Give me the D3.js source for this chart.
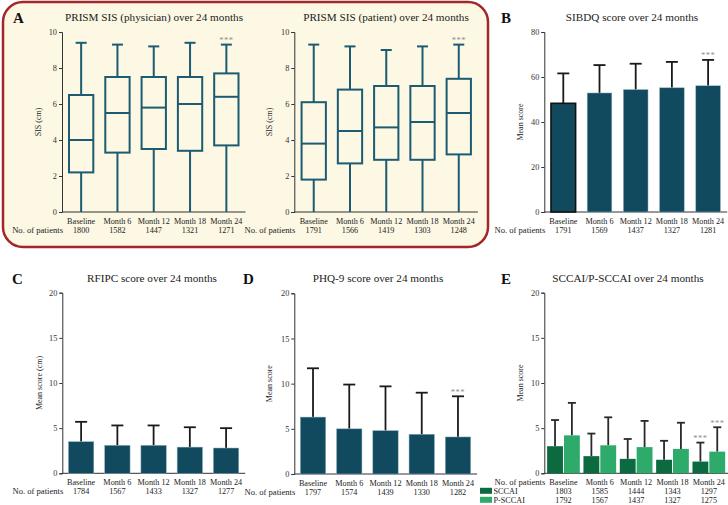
<!DOCTYPE html>
<html>
<head>
<meta charset="utf-8">
<script src="https://cdn.jsdelivr.net/npm/d3@7"></script>
<style>
  body { margin: 0; background: #fff; }
  svg { display: block; font-family: "Liberation Serif", "DejaVu Serif", serif; }
</style>
</head>
<body>
<svg id="chart" width="728" height="505"></svg>
<script>
// categories
const cats = ["Baseline", "Month 6", "Month 12", "Month 18", "Month 24"];

// A: PRISM SIS boxplots (cm)
const physN = [1800, 1582, 1447, 1321, 1271];
const physMin = [0, 0, 0, 0, 0];
const physQ1 = [2.2, 3.3, 3.5, 3.4, 3.7];
const physMed = [4.0, 5.5, 5.8, 6.0, 6.4];
const physQ3 = [6.5, 7.5, 7.5, 7.5, 7.7];
const physMax = [9.4, 9.3, 9.2, 9.4, 9.3];

const patN = [1791, 1566, 1419, 1303, 1248];
const patMin = [0, 0, 0, 0, 0];
const patQ1 = [1.8, 2.7, 2.9, 2.9, 3.2];
const patMed = [3.8, 4.5, 4.7, 5.0, 5.5];
const patQ3 = [6.1, 6.8, 7.0, 7.0, 7.4];
const patMax = [9.3, 9.2, 9.0, 9.2, 9.3];

// B: SIBDQ
const sibdqN = [1791, 1569, 1437, 1327, 1281];
const sibdqMean = [48.3, 52.9, 54.4, 55.2, 56.1];
const sibdqSD = [13.3, 12.4, 11.5, 11.5, 11.5];

// C: RFIPC
const rfipcN = [1784, 1567, 1433, 1327, 1277];
const rfipcMean = [3.5, 3.1, 3.1, 2.9, 2.8];
const rfipcSD = [2.2, 2.2, 2.2, 2.2, 2.2];

// D: PHQ-9
const phqN = [1797, 1574, 1439, 1330, 1282];
const phqMean = [6.3, 5.0, 4.8, 4.4, 4.1];
const phqSD = [5.4, 4.9, 4.9, 4.6, 4.5];

// E: SCCAI / P-SCCAI
const sccaiN = [1803, 1585, 1444, 1343, 1297];
const sccaiMean = [3.0, 1.9, 1.6, 1.5, 1.3];
const sccaiSD = [2.9, 2.5, 2.2, 2.1, 2.1];
const psccaiN = [1792, 1567, 1437, 1327, 1275];
const psccaiMean = [4.2, 3.1, 2.9, 2.7, 2.4];
const psccaiSD = [3.6, 3.1, 2.9, 2.9, 2.7];
const seriesE = ["SCCAI", "P-SCCAI"];

const barColor = "#114a5e";
const boxColor = "#1c5b72";
const greenColors = ["#0b6a40", "#2eaa6b"];
const axisColor = "#333";

const svg = d3.select("#chart");

// panel A background
svg.append("rect")
    .attr("x", 3).attr("y", 2)
    .attr("width", 485).attr("height", 245)
    .attr("rx", 20)
    .attr("fill", "#fcf8e4")
    .attr("stroke", "#a3262b")
    .attr("stroke-width", 2.5)

// common frame: axes, labels, title
function frame(o) {
    const x = d3.scaleBand().domain(cats).range([o.x0, o.x1])
        .paddingInner(o.pad).paddingOuter(o.pad / 2)
    const y = d3.scaleLinear().domain(o.domain).range([o.yb, o.yt])
    const g = svg.append("g")

    //Y AXIS
    const ax = g.append("g")
        .attr("transform", `translate(${o.ax},0)`)
        .call(d3.axisLeft(y).tickValues(o.ticks).tickSize(3).tickPadding(2))
    ax.selectAll("path, line").attr("stroke", axisColor)
    ax.selectAll("text").attr("font-family", "Liberation Serif").attr("font-size", 8.3).attr("fill", "#333")

    //X AXIS (plain line)
    g.append("line")
        .attr("x1", o.ax).attr("x2", o.x1 + 1)
        .attr("y1", o.yb).attr("y2", o.yb)
        .attr("stroke", axisColor)

    //y label
    g.append("text")
        .attr("transform", `translate(${o.ylx},${(o.yb + o.yt) / 2}) rotate(-90)`)
        .attr("text-anchor", "middle")
        .attr("font-size", 8)
        .attr("fill", "#222")
        .text(o.ylabel)

    //title + letter
    g.append("text")
        .attr("x", o.tx).attr("y", o.ty)
        .attr("text-anchor", "middle")
        .attr("font-size", 11.2)
        .attr("fill", "#222")
        .text(o.title)
    if (o.letter) {
        g.append("text")
            .attr("x", o.lx).attr("y", o.ty + 2)
            .attr("font-size", 15)
            .attr("font-weight", "bold")
            .attr("fill", "#111")
            .text(o.letter)
    }

    //category labels
    g.selectAll(".cat").data(cats).join("text")
        .attr("x", d => x(d) + x.bandwidth() / 2)
        .attr("y", o.yb + 12)
        .attr("text-anchor", "middle")
        .attr("font-size", 8.2)
        .attr("fill", "#222")
        .text(d => d)

    g.append("text")
        .attr("class", "nop")
        .attr("x", o.ax + 1).attr("y", o.yb + 21)
        .attr("text-anchor", "end")
        .attr("font-size", 8.6)
        .attr("fill", "#222")
        .text("No. of patients")

    if (o.n) {
        g.selectAll(".n").data(o.n).join("text")
            .attr("x", (d, i) => x(cats[i]) + x.bandwidth() / 2)
            .attr("y", o.yb + 21)
            .attr("text-anchor", "middle")
            .attr("font-size", 8.2)
            .attr("fill", "#222")
            .text(d => d)
    }
    return { g, x, y }
}

function stars(g, cx, cy) {
    g.append("text")
        .attr("x", cx).attr("y", cy)
        .attr("text-anchor", "middle")
        .attr("font-size", 8.5)
        .attr("letter-spacing", 0.5)
        .attr("fill", "#8c8c8c")
        .text("***")
}

// boxplot panel
function boxPanel(o, mn, q1, md, q3, mx) {
    const { g, x, y } = frame(o)
    const bw = x.bandwidth()
    cats.forEach((c, i) => {
        const cx = x(c) + bw / 2
        const s = g.append("g").attr("stroke", boxColor).attr("stroke-width", 2).attr("fill", "none")
        s.append("line").attr("x1", cx).attr("x2", cx).attr("y1", y(mn[i])).attr("y2", y(q1[i]))
        s.append("line").attr("x1", cx).attr("x2", cx).attr("y1", y(q3[i])).attr("y2", y(mx[i]))
        s.append("line").attr("x1", cx - 5.5).attr("x2", cx + 5.5).attr("y1", y(mx[i])).attr("y2", y(mx[i]))
        s.append("rect").attr("x", x(c)).attr("width", bw)
            .attr("y", y(q3[i])).attr("height", y(q1[i]) - y(q3[i]))
        s.append("line").attr("x1", x(c)).attr("x2", x(c) + bw).attr("y1", y(md[i])).attr("y2", y(md[i]))
    })
    const last = cats.length - 1
    stars(g, x(cats[last]) + bw / 2, y(mx[last]) - 1.5)
}

// bar + SD panel
function barPanel(o, mean, sd, starIdx, outlineFirst) {
    const { g, x, y } = frame(o)
    const bw = x.bandwidth()
    g.selectAll(".err").data(mean).join("g").each(function (d, i) {
        const cx = x(cats[i]) + bw / 2
        const e = d3.select(this).attr("stroke", "#1a1a1a").attr("stroke-width", 1.8)
        e.append("line").attr("x1", cx).attr("x2", cx).attr("y1", y(d)).attr("y2", y(d + sd[i]))
        e.append("line").attr("x1", cx - 6).attr("x2", cx + 6).attr("y1", y(d + sd[i])).attr("y2", y(d + sd[i]))
    })
    g.selectAll(".bar").data(mean).join("rect")
        .attr("x", (d, i) => x(cats[i]))
        .attr("width", bw)
        .attr("y", d => y(d))
        .attr("height", d => o.yb - y(d))
        .attr("fill", barColor)
        .attr("stroke", (d, i) => outlineFirst && i === 0 ? "#111" : "#8fb0bd")
        .attr("stroke-width", (d, i) => outlineFirst && i === 0 ? 1.6 : 0.5)
    if (starIdx != null) {
        const i = starIdx
        stars(g, x(cats[i]) + bw / 2, y(mean[i] + sd[i]) - 1.5)
    }
}

boxPanel({ x0: 63, x1: 244.5, pad: 0.33, ax: 62, yb: 212, yt: 32, domain: [0, 10], ticks: [0, 2, 4, 6, 8, 10],
    ylabel: "SIS (cm)", ylx: 41, title: "PRISM SIS (physician) over 24 months", tx: 154, ty: 21, letter: "A", lx: 13, n: physN },
    physMin, physQ1, physMed, physQ3, physMax)

boxPanel({ x0: 295.6, x1: 476.9, pad: 0.33, ax: 294.3, yb: 212, yt: 32, domain: [0, 10], ticks: [0, 2, 4, 6, 8, 10],
    ylabel: "SIS (cm)", ylx: 272, title: "PRISM SIS (patient) over 24 months", tx: 386, ty: 21, n: patN },
    patMin, patQ1, patMed, patQ3, patMax)

barPanel({ x0: 545.2, x1: 726.2, pad: 0.32, ax: 544.3, yb: 212, yt: 32, domain: [0, 80], ticks: [0, 20, 40, 60, 80],
    ylabel: "Mean score", ylx: 523, title: "SIBDQ score over 24 months", tx: 632, ty: 21, letter: "B", lx: 501, n: sibdqN },
    sibdqMean, sibdqSD, 4, true)

barPanel({ x0: 63, x1: 244.2, pad: 0.3, ax: 62.3, yb: 473.3, yt: 292.7, domain: [0, 20], ticks: [0, 5, 10, 15, 20],
    ylabel: "Mean score (cm)", ylx: 42, title: "RFIPC score over 24 months", tx: 152, ty: 281.5, letter: "C", lx: 12, n: rfipcN },
    rfipcMean, rfipcSD, null, false)

barPanel({ x0: 294.9, x1: 476.1, pad: 0.3, ax: 294.3, yb: 474, yt: 293.3, domain: [0, 20], ticks: [0, 5, 10, 15, 20],
    ylabel: "Mean score", ylx: 272, title: "PHQ-9 score over 24 months", tx: 378, ty: 281.5, letter: "D", lx: 243, n: phqN },
    phqMean, phqSD, 4, false)

// E: grouped bars
{
    const o = { x0: 545.3, x1: 727, pad: 0.1, ax: 544.3, yb: 473.3, yt: 292.7, domain: [0, 20], ticks: [0, 5, 10, 15, 20],
        ylabel: "Mean score", ylx: 523, title: "SCCAI/P-SCCAI over 24 months", tx: 628, ty: 281.5, letter: "E", lx: 501 }
    const { g, x, y } = frame(o)
    const xi = d3.scaleBand().domain(seriesE).range([0, x.bandwidth()]).paddingInner(0.06)
    const means = [sccaiMean, psccaiMean]
    const sds = [sccaiSD, psccaiSD]
    const ns = [sccaiN, psccaiN]
    seriesE.forEach((s, k) => {
        cats.forEach((c, i) => {
            const bx = x(c) + xi(s)
            const cx = bx + xi.bandwidth() / 2
            const top = means[k][i] + sds[k][i]
            const e = g.append("g").attr("stroke", "#2a2a2a").attr("stroke-width", 1.8)
            e.append("line").attr("x1", cx).attr("x2", cx).attr("y1", y(means[k][i])).attr("y2", y(top))
            e.append("line").attr("x1", cx - 4).attr("x2", cx + 4).attr("y1", y(top)).attr("y2", y(top))
            g.append("rect")
                .attr("x", bx).attr("width", xi.bandwidth())
                .attr("y", y(means[k][i])).attr("height", o.yb - y(means[k][i]))
                .attr("fill", greenColors[k])
        })
        const last = cats.length - 1
        stars(g, x(cats[last]) + xi(s) + xi.bandwidth() / 2, y(means[k][last] + sds[k][last]) - 1.5)

        // legend row + n
        const ry = o.yb + 21 + k * 9
        g.append("rect").attr("x", 480).attr("y", ry - 6.5).attr("width", 12).attr("height", 6).attr("fill", greenColors[k])
        g.append("text").attr("x", 493.5).attr("y", ry).attr("font-size", 8.2).attr("fill", "#222").text(s)
        g.selectAll(".n" + k).data(ns[k]).join("text")
            .attr("x", (d, i) => x(cats[i]) + x.bandwidth() / 2)
            .attr("y", ry)
            .attr("text-anchor", "middle")
            .attr("font-size", 8.2)
            .attr("fill", "#222")
            .text(d => d)
    })
    // No. of patients label sits on category row in E
    g.select(".nop").attr("y", o.yb + 12)
}
</script>
</body>
</html>
